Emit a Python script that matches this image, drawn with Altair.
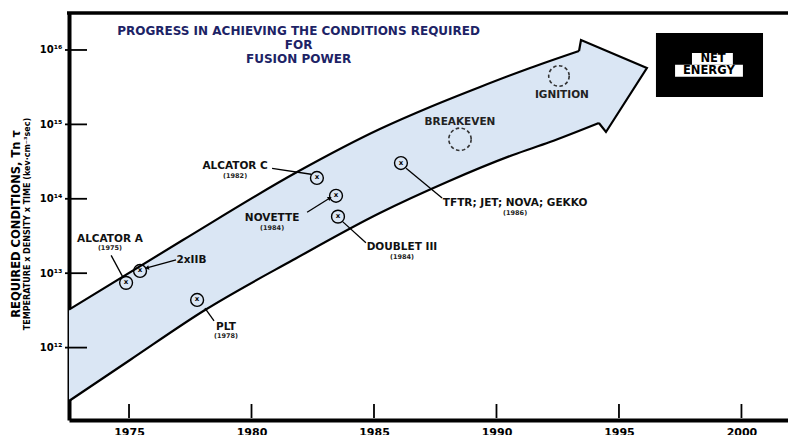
import altair as alt
import pandas as pd

# ---------------- data (year, log10 of n*T*tau) ----------------
upper_year = [1972.55, 1977.20, 1981.86, 1985.24, 1987.29, 1989.33, 1991.37, 1993.37]
upper_exp = [12.51, 13.446, 14.36, 14.938, 15.234, 15.503, 15.758, 15.987]
head_year = [1993.45, 1996.14, 1994.47]
head_exp = [16.134, 15.758, 14.898]
lower_year = [1972.55, 1975.04, 1978.10, 1981.69, 1985.24, 1987.98, 1990.67, 1992.18, 1994.18]
lower_exp = [11.282, 11.833, 12.505, 13.177, 13.809, 14.226, 14.589, 14.763, 15.019]

machine = ["ALCATOR A", "2xIIB", "PLT", "ALCATOR C", "NOVETTE", "DOUBLET III", "TFTR; JET; NOVA; GEKKO"]
machine_when = ["(1975)", "", "(1978)", "(1982)", "(1984)", "(1984)", "(1986)"]
point_year = [1974.88, 1975.45, 1977.78, 1982.67, 1983.45, 1983.53, 1986.10]
point_exp = [12.87, 13.03, 12.64, 14.28, 14.04, 13.76, 14.48]
label_year = [1974.22, 1977.55, 1978.96, 1979.33, 1980.84, 1986.14, 1990.76]
label_exp = [13.46, 13.18, 12.28, 14.44, 13.74, 13.35, 13.94]

lead_year1 = [1974.27, 1976.92, 1978.10, 1980.84, 1982.27, 1983.73, 1986.31]
lead_exp1 = [13.24, 13.18, 12.53, 14.41, 13.82, 13.69, 14.41]
lead_year2 = [1974.76, 1975.73, 1978.47, 1982.43, 1983.20, 1984.67, 1987.78]
lead_exp2 = [12.94, 13.07, 12.36, 14.33, 14.01, 13.41, 14.01]

arrow_year = [1975.73, 1983.20]
arrow_exp = [13.07, 14.01]
arrow_angle = [165, 329]

target = ["BREAKEVEN", "IGNITION"]
target_year = [1988.51, 1992.55]
target_exp = [14.80, 15.65]
target_size = [500, 420]
target_label_year = [1988.51, 1992.67]
target_label_exp = [15.03, 15.40]

title_lines = ["PROGRESS IN ACHIEVING THE CONDITIONS REQUIRED", "FOR", "FUSION POWER"]
title_year = [1981.92, 1981.92, 1981.92]
title_exp = [16.255, 16.067, 15.88]

box_year = [1996.51, 2000.88]
box_exp = [16.228, 15.368]
inner_year1 = [1997.98, 1997.29]
inner_year2 = [1999.65, 2000.06]
inner_exp1 = [15.96, 15.80]
inner_exp2 = [15.80, 15.64]
inner_text = ["NET", "ENERGY"]
inner_text_year = [1998.84, 1998.67]
inner_text_exp = [15.885, 15.715]

x_ticks = [1975, 1980, 1985, 1990, 1995, 2000]
y_ticks_exp = [12, 13, 14, 15, 16]

W, H = 719, 407
FONT = "DejaVu Sans"
BAND = "#dae6f4"

xs = alt.Scale(domain=[1972.55, 2001.9], nice=False, zero=False)
ys = alt.Scale(type="log", domain=[10 ** 11.027, 10 ** 16.497], nice=False)


def v(e):
    return 10 ** e


def X(f="year"):
    return alt.X(f + ":Q", scale=xs)


def Y(f="val"):
    return alt.Y(f + ":Q", scale=ys)


# arrow polygon outline (fill only)
ox = upper_year + head_year + lower_year[::-1] + [upper_year[0]]
oy = upper_exp + head_exp + lower_exp[::-1] + [upper_exp[0]]
outline = pd.DataFrame({"year": ox, "val": [v(e) for e in oy], "i": list(range(len(ox)))})

sup = "['','','','','','','','','','','','¹¹','¹²','¹³','¹⁴','¹⁵','¹⁶','¹⁷']"

band = alt.Chart(outline).mark_line(
    fill=BAND, stroke="black", strokeOpacity=0
).encode(
    x=alt.X("year:Q", scale=xs,
            axis=alt.Axis(values=x_ticks, format="d", title=None, grid=False,
                          tickSize=0, labelPadding=6, domainWidth=4, domainColor="black",
                          labelFont=FONT, labelFontWeight="bold", labelFontSize=11,
                          labelColor="black", labelFlush=False)),
    y=alt.Y("val:Q", scale=ys,
            axis=alt.Axis(values=[v(e) for e in y_ticks_exp], title=None, grid=False,
                          tickSize=0, labelPadding=7, domainWidth=4, domainColor="black",
                          labelFont=FONT, labelFontWeight="bold", labelFontSize=10,
                          labelColor="black",
                          labelExpr="'10' + " + sup + "[round(log(datum.value)/LN10)]")),
    order="i:Q",
)

# smooth edges of the band
up_df = pd.DataFrame({"year": upper_year, "val": [v(e) for e in upper_exp]})
lo_df = pd.DataFrame({"year": lower_year, "val": [v(e) for e in lower_exp]})
upper_edge = alt.Chart(up_df).mark_line(color="black", strokeWidth=2.2, interpolate="monotone").encode(
    x=X(), y=Y())
lower_edge = alt.Chart(lo_df).mark_line(color="black", strokeWidth=2.2, interpolate="monotone").encode(
    x=X(), y=Y())
hx = [upper_year[-1]] + head_year + [lower_year[-1]]
hy = [upper_exp[-1]] + head_exp + [lower_exp[-1]]
head_df = pd.DataFrame({"year": hx, "val": [v(e) for e in hy], "i": list(range(len(hx)))})
head_edge = alt.Chart(head_df).mark_line(color="black", strokeWidth=2.2, strokeJoin="miter").encode(
    x=X(), y=Y(), order="i:Q")

# top frame line
top_line = alt.Chart(pd.DataFrame({"a": [0]})).mark_rule(color="black", strokeWidth=3.5).encode(
    x=alt.value(-2), x2=alt.value(W), y=alt.value(0)
)

# inward ticks
xt = alt.Chart(pd.DataFrame({"year": x_ticks})).mark_rule(color="black", strokeWidth=1.8).encode(
    x=X(), y=alt.value(H - 16), y2=alt.value(H - 2)
)
yt = alt.Chart(pd.DataFrame({"val": [v(e) for e in y_ticks_exp]})).mark_rule(
    color="black", strokeWidth=1.8).encode(
    y=Y(), x=alt.value(-4), x2=alt.value(18)
)

# leaders
lead = pd.DataFrame({"x1": lead_year1, "x2": lead_year2,
                     "y1": [v(e) for e in lead_exp1], "y2": [v(e) for e in lead_exp2]})
leaders = alt.Chart(lead).mark_rule(color="black", strokeWidth=1.3).encode(
    x=X("x1"), x2="x2:Q", y=Y("y1"), y2="y2:Q"
)
arr = pd.DataFrame({"year": arrow_year, "val": [v(e) for e in arrow_exp], "ang": arrow_angle})
arrows = alt.Chart(arr).mark_point(shape="triangle-right", filled=True, color="black",
                                   size=22, opacity=1).encode(
    x=X(), y=Y(), angle=alt.Angle("ang:Q", scale=None)
)

# machine markers
pts = pd.DataFrame({"year": point_year, "val": [v(e) for e in point_exp], "m": machine})
markers = alt.Chart(pts).mark_point(shape="circle", size=165, filled=False, stroke="black",
                                    strokeWidth=1.4, opacity=1).encode(x=X(), y=Y())
marker_x = alt.Chart(pts).mark_text(font=FONT, fontWeight="bold", fontSize=7, color="black",
                                    baseline="middle", dy=-0.5).encode(
    x=X(), y=Y(), text=alt.value("x")
)

labs = pd.DataFrame({"year": label_year, "val": [v(e) for e in label_exp],
                     "m": machine, "w": machine_when})
names = alt.Chart(labs).mark_text(font=FONT, fontWeight="bold", fontSize=10.5, color="#111",
                                  baseline="middle").encode(x=X(), y=Y(), text="m:N")
whens = alt.Chart(labs).mark_text(font=FONT, fontWeight="bold", fontSize=6.5, color="#222",
                                  baseline="middle", dy=9.5).encode(x=X(), y=Y(), text="w:N")

# goals
tg = pd.DataFrame({"year": target_year, "val": [v(e) for e in target_exp], "s": target_size})
goals = alt.Chart(tg).mark_point(shape="circle", filled=False, stroke="#333", strokeWidth=1.6,
                                 strokeDash=[3.5, 2.5], opacity=1).encode(
    x=X(), y=Y(), size=alt.Size("s:Q", scale=None)
)
tgl = pd.DataFrame({"year": target_label_year, "val": [v(e) for e in target_label_exp], "t": target})
goal_labels = alt.Chart(tgl).mark_text(font=FONT, fontWeight="bold", fontSize=10.5, color="#222",
                                       baseline="middle").encode(x=X(), y=Y(), text="t:N")

# title inside the frame
tt = pd.DataFrame({"year": title_year, "val": [v(e) for e in title_exp], "t": title_lines})
title = alt.Chart(tt).mark_text(font=FONT, fontWeight="bold", fontSize=12, color="#1d2366",
                                baseline="middle").encode(x=X(), y=Y(), text="t:N")

# NET ENERGY box
bx = pd.DataFrame({"x1": [box_year[0]], "x2": [box_year[1]],
                   "y1": [v(box_exp[0])], "y2": [v(box_exp[1])]})
box = alt.Chart(bx).mark_rect(color="black").encode(
    x=X("x1"), x2="x2:Q", y=Y("y1"), y2="y2:Q"
)
ib = pd.DataFrame({"x1": inner_year1, "x2": inner_year2,
                   "y1": [v(e) for e in inner_exp1], "y2": [v(e) for e in inner_exp2]})
inner = alt.Chart(ib).mark_rect(color="white").encode(
    x=X("x1"), x2="x2:Q", y=Y("y1"), y2="y2:Q"
)
it = pd.DataFrame({"year": inner_text_year, "val": [v(e) for e in inner_text_exp], "t": inner_text})
inner_t = alt.Chart(it).mark_text(font=FONT, fontWeight="bold", fontSize=11.5, color="black",
                                  baseline="middle").encode(x=X(), y=Y(), text="t:N")

# y-axis title (two lines)
yt1 = alt.Chart(pd.DataFrame({"t": ["REQUIRED CONDITIONS, Tn τ"]})).mark_text(
    font=FONT, fontWeight="bold", fontSize=11.5, color="black", angle=270, baseline="middle"
).encode(x=alt.value(-52), y=alt.value(211), text="t:N")
yt2 = alt.Chart(pd.DataFrame({"t": ["TEMPERATURE x DENSITY x TIME (kev·cm⁻³sec)"]})).mark_text(
    font=FONT, fontWeight="bold", fontSize=8, color="black", angle=270, baseline="middle"
).encode(x=alt.value(-41), y=alt.value(211), text="t:N")

chart = alt.layer(
    band, upper_edge, lower_edge, head_edge, top_line, xt, yt, leaders, arrows, markers,
    marker_x, names, whens, goals, goal_labels, title, box, inner, inner_t, yt1, yt2
).properties(
    width=W, height=H,
    padding={"left": 61, "top": 5, "right": 0, "bottom": 15},
    autosize=alt.AutoSizeParams(type="none"),
).configure_view(stroke=None)

chart.save("out.html", embed_options={"renderer": "svg", "actions": False})
